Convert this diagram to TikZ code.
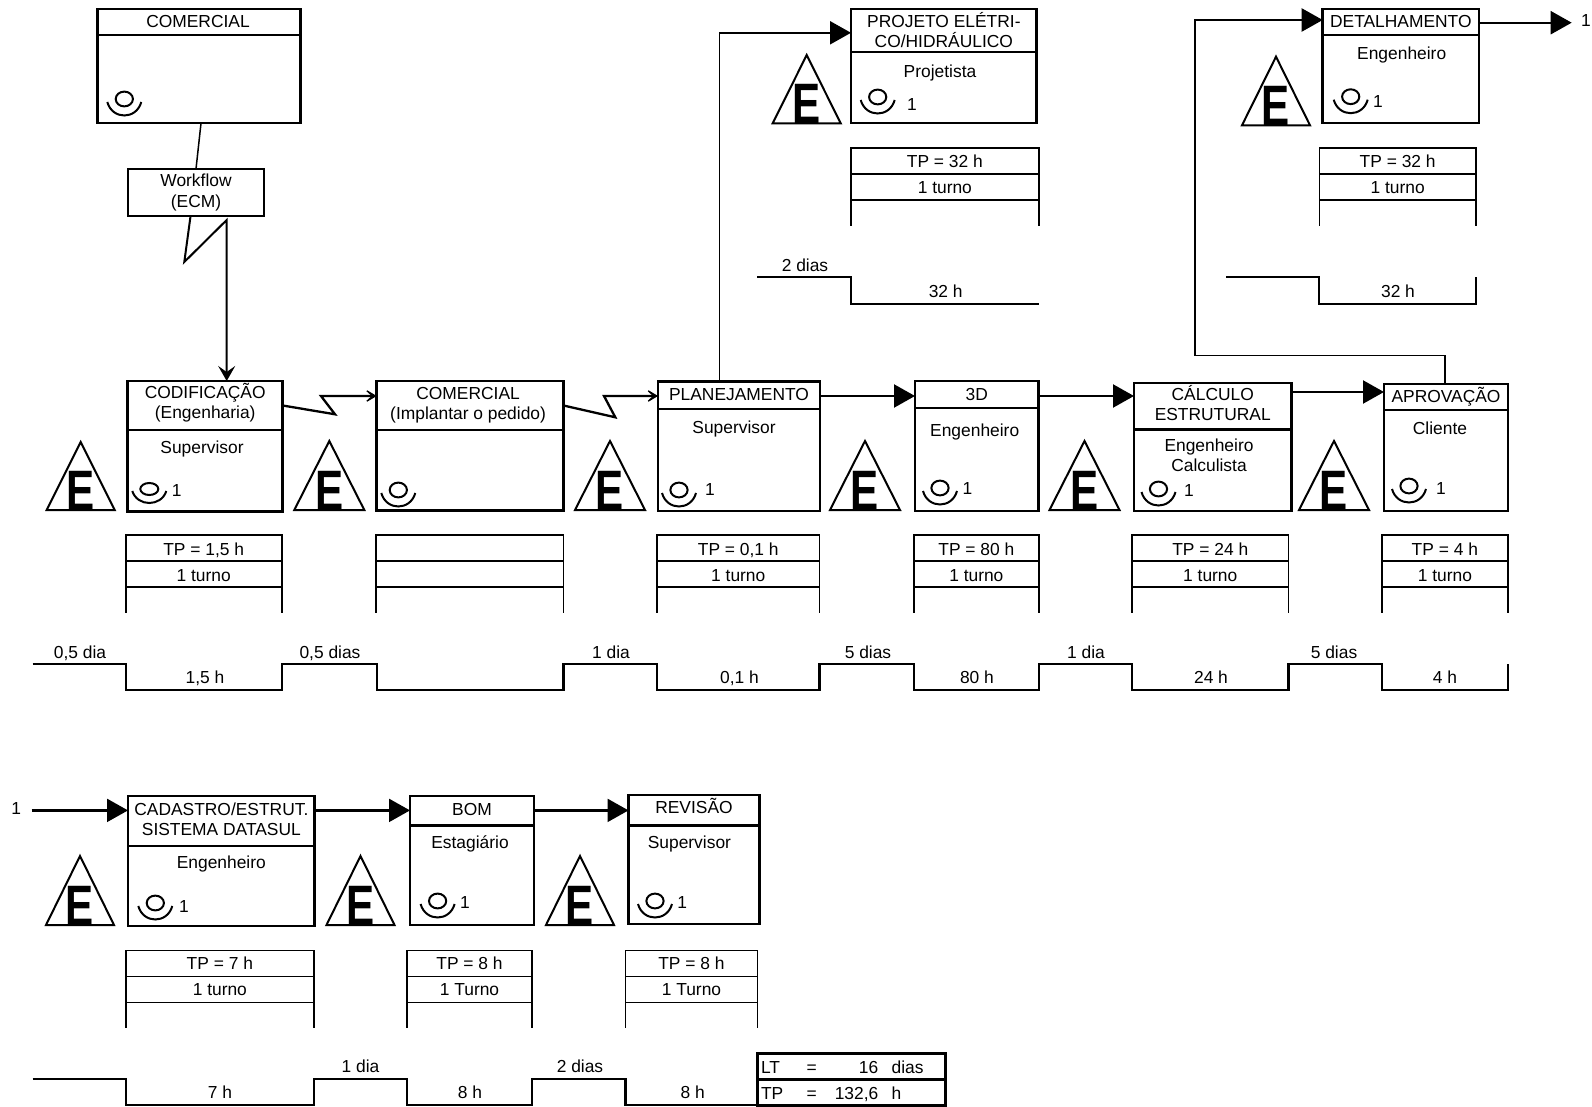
\documentclass[tikz,border=0pt]{standalone}
\usepackage{fontspec}
\setmainfont{Liberation Sans}
\usetikzlibrary{arrows.meta,calc}
\def\dh{6.8pt}
\tikzset{
  every node/.style={font=\fontsize{8.7}{10}\selectfont,inner sep=0pt,outer sep=0pt},
  lab/.style={align=center},
  tl/.style={text height=6.4pt,text depth=0pt},
  boxline/.style={draw=black,line width=1.3pt,rectangle,align=center,fill=white},
  dataline/.style={draw=black,line width=.8pt,rectangle,align=center,text height=\dh,text depth=0pt},
  tri/.style={draw=black,line width=1pt,line join=miter},
  elet/.style={font=\bfseries\fontsize{28.5}{28.5}\selectfont,anchor=base,xscale=.74},
  icon/.style={draw=black,line width=1pt},
  wave/.style={draw=black,line width=1.05pt},
  flow/.style={draw=black,line width=1.1pt,-{Triangle[length=10.5pt,width=11.5pt]}},
  thinline/.style={draw=black,line width=.75pt},
  barb/.style={draw=black,line width=1pt,-{Stealth[length=7.5pt,width=8.5pt,inset=3pt]}},
  zigarrow/.style={draw=black,line width=1.15pt,-{Stealth[length=7.5pt,width=9pt,inset=5pt]}}
}
% id x0 y0 ydiv x1 y1 title text-offset
\newcommand{\proc}[8]{%
  \node[boxline,anchor=north west,minimum width={(#5-#2)*0.5pt},minimum height={(#4-#3)*0.5pt}] (#1t) at (#2,#3) {};
  \node[boxline,anchor=north west,minimum width={(#5-#2)*0.5pt},minimum height={(#6-#4)*0.5pt}] (#1b) at (#2,#4) {};
  \node[lab] (#1x) at ($(#1t.center)+(#8)$) {#7};
}
% id x0 x1 y t1 t2
\newcommand{\datab}[6]{%
  \node[dataline,anchor=north west,minimum width={(#3-#2)*0.5pt},minimum height=13pt] (#1a) at (#2,#4) {#5};
  \node[dataline,anchor=north,minimum width={(#3-#2)*0.5pt},minimum height=13pt] (#1c) at (#1a.south) {#6};
  \draw[line width=.8pt] (#1c.south west) -- ++(0,26);
  \draw[line width=.8pt] (#1c.south east) -- ++(0,26);
}
% id xapex ytop ybase halfwidth
\newcommand{\etri}[5]{%
  \coordinate (#1a) at (#2,#3);
  \draw[tri] (#1a) -- (#2-#5,#4) -- (#2+#5,#4) -- cycle;
  \node[elet] (#1e) at (#2,#4) {E};
}
\newcommand{\opr}[2]{%
  \draw[icon] (#1,#2) ellipse [x radius=4.3pt,y radius=3.7pt];
  \draw[icon] (#1-17,#2+3) .. controls (#1-12,#2+21) and (#1+12,#2+21) .. (#1+17,#2+3);
}
\newcommand{\oprflat}[2]{%
  \draw[icon] (#1,#2) ellipse [x radius=4.5pt,y radius=3pt];
  \draw[icon] (#1-17,#2+2) .. controls (#1-12,#2+18) and (#1+12,#2+18) .. (#1+17,#2+2);
}
\begin{document}
\begin{tikzpicture}[x=0.5pt,y=-0.5pt]
\useasboundingbox (0,0) rectangle (1592,1107);
% process boxes
\proc{top}{97.5}{9}{35}{300.5}{123}{COMERCIAL}{-1,-0.5}
\node[boxline,anchor=north west,minimum width=68pt,minimum height=23.5pt,line width=1pt] (wf) at (128,169) {Workflow\\(ECM)};
\proc{cod}{127.7}{381}{430}{282.7}{511.5}{CODIFICAÇÃO\\(Engenharia)}{0,-2.5}
\proc{com}{376.7}{381}{430}{563.5}{510.5}{COMERCIAL\\(Implantar o pedido)}{-2,0}
\proc{pla}{658}{381.5}{409}{820}{511}{PLANEJAMENTO}{0,-1}
\proc{td}{915}{381}{408}{1038.7}{511}{3D}{0,0}
\proc{cal}{1134}{383}{429.5}{1291.5}{511}{CÁLCULO\\ESTRUTURAL}{0,-3}
\proc{apr}{1384}{384}{410}{1508}{511}{APROVAÇÃO}{0,0}
\proc{pro}{851}{9}{52}{1036.7}{123}{PROJETO ELÉTRI-\\CO/HIDRÁULICO}{0,0}
\proc{det}{1322.7}{9}{35}{1479}{123}{DETALHAMENTO}{0,0}
\proc{cad}{128}{796}{846}{314.7}{926}{CADASTRO/ESTRUT.\\SISTEMA DATASUL}{0,-1.5}
\proc{bom}{410}{796}{825.5}{534}{925}{BOM}{0,-1}
\proc{rev}{628.5}{795}{825.5}{759.5}{924}{REVISÃO}{0,-4}
% roles
\node[tl] (r1) at (202,447) {Supervisor};
\node[tl] (r2) at (734,427.5) {Supervisor};
\node[tl] (r3) at (974.7,430.5) {Engenheiro};
\node[lab] (r4) at (1209,455) {Engenheiro\\Calculista};
\node[tl] (r5) at (1440,428.5) {Cliente};
\node[tl] (r6) at (940,71) {Projetista};
\node[tl] (r7) at (1401.7,52.7) {Engenheiro};
\node[tl] (r8) at (221.3,862) {Engenheiro};
\node[tl] (r9) at (470,841.7) {Estagiário};
\node[tl] (r10) at (689.4,841.7) {Supervisor};
% operators
\opr{124.3}{99}
\oprflat{149.3}{489}\node (n1) at (176.7,490.7) {1};
\opr{398.3}{490}
\opr{679}{490}\node (n2) at (710,490) {1};
\opr{940}{488}\node (n3) at (967.5,488.5) {1};
\opr{1158.5}{489}\node (n4) at (1189,491) {1};
\opr{1409}{486}\node (n5) at (1441,489) {1};
\opr{877.7}{97}\node (n6) at (912,105) {1};
\opr{1350.7}{96.7}\node (n7) at (1378,101.7) {1};
\opr{155.3}{903}\node (n8) at (184,906.7) {1};
\opr{437.6}{901}\node (n9) at (465,902.6) {1};
\opr{655}{901}\node (n10) at (682.3,902.6) {1};
% triangles
\etri{e1}{80.7}{442}{510}{34}
\etri{e2}{329.3}{441}{510}{35}
\etri{e3}{610}{441}{510}{35}
\etri{e4}{865}{441}{510}{35}
\etri{e5}{1084.5}{441}{510}{35}
\etri{e6}{1334}{441}{510}{35}
\etri{e7}{806.7}{55}{123.3}{34}
\etri{e8}{1276}{56.7}{125.3}{34}
\etri{e9}{80}{856}{925}{34}
\etri{e10}{360.5}{856}{925}{34}
\etri{e11}{580}{856}{925}{34}
% data boxes
\def\dh{7.5pt}
\datab{d1}{125.7}{281.7}{535}{TP = 1,5 h}{1 turno}
\datab{d2}{376}{563.5}{535}{}{}
\datab{d3}{657}{819.5}{535}{TP = 0,1 h}{1 turno}
\datab{d4}{914}{1038.7}{535}{TP = 80 h}{1 turno}
\datab{d5}{1132}{1288.5}{535}{TP = 24 h}{1 turno}
\datab{d6}{1382}{1507.7}{535}{TP = 4 h}{1 turno}
\def\dh{6.6pt}
\datab{d7}{851}{1038.7}{148.3}{TP = 32 h}{1 turno}
\datab{d8}{1319.3}{1476}{148.3}{TP = 32 h}{1 turno}
\def\dh{6.3pt}
\datab{d9}{126}{313.7}{950.3}{TP = 7 h}{1 turno}
\datab{d10}{407}{532}{950.3}{TP = 8 h}{1 Turno}
\datab{d11}{625.5}{757.4}{950.3}{TP = 8 h}{1 Turno}
% timelines
\draw[wave] (32.7,664) -- (126,664) -- (126,690) -- (282,690) -- (282,664) -- (376.7,664) -- (376.7,690) -- (563.5,690) -- (563.5,664) -- (657,664) -- (657,690) -- (819.5,690) -- (819.5,664) -- (914,664) -- (914,690) -- (1038.7,690) -- (1038.7,664) -- (1132,664) -- (1132,690) -- (1288.5,690) -- (1288.5,664) -- (1382,664) -- (1382,690) -- (1507.7,690) -- (1507.7,664);
\draw[wave] (757.3,277.3) -- (851,277.3) -- (851,303.7) -- (1038.7,303.7);
\draw[wave] (1226,277.3) -- (1319.3,277.3) -- (1319.3,303.7) -- (1476,303.7) -- (1476,277.3);
\draw[wave] (32.5,1079.3) -- (126,1079.3) -- (126,1105.3) -- (313.7,1105.3) -- (313.7,1079.3) -- (407,1079.3) -- (407,1105.3) -- (532,1105.3) -- (532,1079.3) -- (625.5,1079.3) -- (625.5,1105.3) -- (757.3,1105.3);
% timeline labels
\node[tl] (t1) at (80,652) {0,5 dia};
\node[tl] (t2) at (330,652) {0,5 dias};
\node[tl] (t3) at (611,652) {1 dia};
\node[tl] (t4) at (868,652) {5 dias};
\node[tl] (t5) at (1086,652) {1 dia};
\node[tl] (t6) at (1334,652) {5 dias};
\node[tl] (t7) at (205,677.5) {1,5 h};
\node[tl] (t8) at (739.5,677.5) {0,1 h};
\node[tl] (t9) at (977,677.5) {80 h};
\node[tl] (t10) at (1211,677.5) {24 h};
\node[tl] (t11) at (1445,677.5) {4 h};
\node[tl] (t12) at (805,265) {2 dias};
\node[tl] (t13) at (945.7,291) {32 h};
\node[tl] (t14) at (1398,291) {32 h};
\node[tl] (t15) at (360.5,1066) {1 dia};
\node[tl] (t16) at (580,1066) {2 dias};
\node[tl] (t17) at (220,1092) {7 h};
\node[tl] (t18) at (470,1092) {8 h};
\node[tl] (t19) at (692.7,1092) {8 h};
% summary table
\node[boxline,anchor=north west,minimum width=94.2pt,minimum height=13pt] (lt) at (757.3,1053.3) {};
\node[boxline,anchor=north west,minimum width=94.2pt,minimum height=13pt] (tpb) at (757.3,1079.3) {};
\node[tl,anchor=west] (a1) at (761,1067) {LT};
\node[tl] (a2) at (811.7,1067) {=};
\node[tl,anchor=east] (a3) at (878.3,1067) {16};
\node[tl,anchor=west] (a4) at (891.7,1067) {dias};
\node[tl,anchor=west] (b1) at (761,1093) {TP};
\node[tl] (b2) at (811.7,1093) {=};
\node[tl,anchor=east] (b3) at (878.3,1093) {132,6};
\node[tl,anchor=west] (b4) at (891.7,1093) {h};
% connectors
\draw[thinline] ($(topb.south west)!.51!(topb.south east)$) -- ($(wf.north west)!.5!(wf.north east)$);
\coordinate (wa) at (184.3,262);
\coordinate (wb) at (226.7,220);
\draw[barb,line join=miter] ($(wf.south west)!.46!(wf.south east)$) -- (wa) -- (wb) -- (wb |- codt.north);
\coordinate (ca) at (335,414.3);
\coordinate (cb) at (321,396);
\draw[zigarrow] (codt.east) -- (ca) -- (cb) -- (cb -| comt.west);
\coordinate (pa) at (615.3,417.3);
\coordinate (pb) at (604,396);
\draw[zigarrow] (comt.east) -- (pa) -- (pb) -- (pb -| plat.west);
\coordinate (ab) at (820,396);
\draw[flow] (plat.east |- ab) -- (ab -| tdt.west);
\draw[flow] (tdt.east |- ab) -- (ab -| calt.west);
\coordinate (ac) at (1291.5,392);
\draw[flow] (ac) -- (ac -| aprt.west);
\coordinate (g1) at (719.7,32.8);
\coordinate (g2) at (760,32.8);
\draw[thinline] (g1 |- plat.north) -- (g1) -- (g2);
\draw[flow] (g2) -- (g2 -| prot.west);
\coordinate (h0) at (1445,355.4);
\coordinate (h1) at (1195,355.4);
\coordinate (h2) at (1195,20);
\coordinate (h3) at (1230.7,20);
\draw[thinline] (h0 |- aprt.north) -- (h0) -- (h1) -- (h2) -- (h3);
\draw[flow] (h3) -- (h3 -| dett.west);
\node (o1) at (1586,20.7) {1};
\coordinate (o2) at (1571.7,22.7);
\draw[flow] (dett.east |- o2) -- (o2);
\node (i1) at (16.2,809) {1};
\coordinate (i2) at (31.5,810.4);
\draw[flow] (i2) -- (i2 -| cadt.west);
\draw[flow] (cadt.east |- i2) -- (i2 -| bomt.west);
\draw[flow] (bomt.east |- i2) -- (i2 -| revt.west);
\end{tikzpicture}
\end{document}
